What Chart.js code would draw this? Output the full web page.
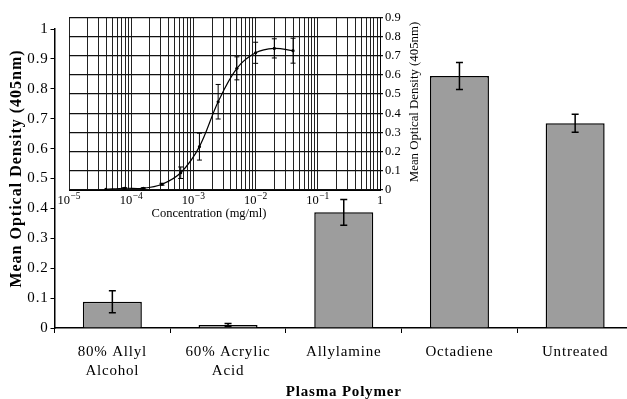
<!DOCTYPE html>
<html><head><meta charset="utf-8">
<script src="https://cdn.jsdelivr.net/npm/chart.js@4.4.1/dist/chart.umd.min.js"></script>
<style>
html,body{margin:0;padding:0;background:#fff;overflow:hidden;width:627px;height:399px;}
#wrap{position:relative;width:633px;height:401px;}
canvas{position:absolute;left:0;top:0;}
</style></head><body>
<div id="wrap">
<canvas id="main" width="633" height="401"></canvas>
<canvas id="inset" width="633" height="401"></canvas>
</div>
<script>
// ---- main bar chart data ----
const categories = [['80% Allyl', 'Alcohol'], ['60% Acrylic', 'Acid'], 'Allylamine', 'Octadiene', 'Untreated'];
const barValues = [0.088, 0.010, 0.387, 0.843, 0.685];
const barErrors = [0.037, 0.005, 0.043, 0.045, 0.030];
const mainYTitle = 'Mean Optical Density (405nm)';
const mainXTitle = 'Plasma Polymer';

// ---- inset dose-response data ----
const concentrations = [0.0000390625, 0.000078125, 0.00015625, 0.0003125, 0.000625, 0.00125, 0.0025, 0.005, 0.01, 0.02, 0.04];
const insetValues = [0.004, 0.009, 0.009, 0.030, 0.090, 0.226, 0.460, 0.634, 0.715, 0.738, 0.726];
const insetErrors = [0, 0.003, 0.003, 0.005, 0.030, 0.070, 0.090, 0.060, 0.055, 0.050, 0.065];
const decadeTicks = [1e-5, 1e-4, 1e-3, 1e-2, 1e-1, 1];
const decadeBases = ['10', '10', '10', '10', '10', '1'];
const decadeExponents = ['\u22125', '\u22124', '\u22123', '\u22122', '\u22121', ''];
const insetXTitle = 'Concentration (mg/ml)';
const insetYTitle = 'Mean Optical Density (405nm)';

const FAMILY = '"Liberation Serif", "Times New Roman", serif';
Chart.defaults.color = '#000';

// log grid positions: 1..9 x each decade, plus the last decade tick
const gridValues = [];
for (let d = 0; d < decadeTicks.length - 1; d++) {
  for (let m = 1; m <= 9; m++) gridValues.push(decadeTicks[d] * m);
}
gridValues.push(decadeTicks[decadeTicks.length - 1]);

const errorBarPlugin = {
  id: 'errorBars',
  afterDatasetsDraw(chart, args, opts) {
    const ctx = chart.ctx;
    const meta = chart.getDatasetMeta(0);
    const ys = chart.scales.y;
    ctx.save();
    ctx.strokeStyle = opts.color;
    ctx.lineWidth = opts.width;
    opts.values.forEach((v, i) => {
      const e = opts.errors[i];
      if (!e) return;
      const x = meta.data[i].x;
      const y1 = ys.getPixelForValue(v + e), y2 = ys.getPixelForValue(v - e);
      ctx.beginPath();
      ctx.moveTo(x, y1); ctx.lineTo(x, y2);
      ctx.moveTo(x - opts.cap, y1); ctx.lineTo(x + opts.cap, y1);
      ctx.moveTo(x - opts.cap, y2); ctx.lineTo(x + opts.cap, y2);
      ctx.stroke();
    });
    ctx.restore();
  }
};

const textPlugin = {
  id: 'freeText',
  beforeDraw(chart, args, opts) {
    chart.ctx.letterSpacing = opts.spacing || '0px';
  },
  afterDraw(chart, args, opts) {
    const ctx = chart.ctx;
    (opts.items || []).forEach(it => {
      ctx.save();
      ctx.font = it.font;
      ctx.fillStyle = '#000';
      ctx.letterSpacing = it.spacing || '0px';
      ctx.textAlign = 'center';
      ctx.textBaseline = 'middle';
      ctx.translate(it.x, it.y);
      ctx.rotate(it.rot || 0);
      ctx.fillText(it.text, 0, 0);
      ctx.restore();
    });
  }
};

// power-of-ten tick labels with raised exponents
const expLabelPlugin = {
  id: 'expLabels',
  afterDraw(chart, args, opts) {
    if (!opts.ticks) return;
    const ctx = chart.ctx;
    const xs = chart.scales.x;
    ctx.save();
    ctx.fillStyle = '#000';
    ctx.textBaseline = 'alphabetic';
    ctx.textAlign = 'left';
    opts.ticks.forEach((t, i) => {
      const x = xs.getPixelForValue(t);
      ctx.font = opts.baseFont;
      const wb = ctx.measureText(opts.bases[i]).width;
      ctx.font = opts.expFont;
      const we = opts.exps[i] ? ctx.measureText(opts.exps[i]).width + 0.5 : 0;
      const x0 = x - (wb + we) / 2;
      ctx.font = opts.baseFont;
      ctx.fillText(opts.bases[i], x0, opts.baseline);
      if (opts.exps[i]) {
        ctx.font = opts.expFont;
        ctx.fillText(opts.exps[i], x0 + wb + 0.5, opts.baseline - opts.raise);
      }
    });
    ctx.restore();
  }
};

new Chart(document.getElementById('main'), {
  type: 'bar',
  data: {
    labels: categories,
    datasets: [{
      data: barValues,
      backgroundColor: '#9d9d9d',
      borderColor: '#000',
      borderWidth: 1.5,
      barPercentage: 0.51,
      categoryPercentage: 1
    }]
  },
  options: {
    responsive: false, animation: false, devicePixelRatio: 1,
    layout: { padding: { top: 29, right: 0, bottom: 0, left: 0 } },
    plugins: {
      legend: { display: false }, tooltip: { enabled: false },
      errorBars: { values: barValues, errors: barErrors, color: '#000', width: 1.5, cap: 3.5 },
      freeText: {
        spacing: '0.8px',
        items: [{ text: mainYTitle, x: 17, y: 168.5, rot: -Math.PI / 2, font: 'bold 16px ' + FAMILY, spacing: '1px' }]
      }
    },
    scales: {
      x: {
        grid: { drawOnChartArea: false, tickLength: 5, color: '#000', lineWidth: 1, offset: true },
        border: { color: '#000', width: 1.5 },
        ticks: { font: { family: FAMILY, size: 15, lineHeight: 1.27 }, color: '#000', padding: 9.5, maxRotation: 0, autoSkip: false },
        title: { display: true, text: mainXTitle, color: '#000', font: { family: FAMILY, size: 15, weight: 'bold' }, padding: { top: 0, bottom: 0 } },
        afterFit: s => { s.height = 73; }
      },
      y: {
        min: 0, max: 1,
        ticks: {
          stepSize: 0.1, font: { family: FAMILY, size: 15 }, color: '#000', padding: 2,
          callback: v => String(Math.round(v * 10) / 10)
        },
        grid: { drawOnChartArea: false, tickLength: 4, color: '#000' },
        border: { color: '#000', width: 1.5 },
        afterFit: s => { s.width = 54.5; }
      }
    }
  },
  plugins: [errorBarPlugin, textPlugin]
});

new Chart(document.getElementById('inset'), {
  type: 'line',
  data: {
    datasets: [{
      data: concentrations.map((c, i) => ({ x: c, y: insetValues[i] })),
      borderColor: '#000',
      borderWidth: 1.2,
      pointRadius: 1.6,
      pointBackgroundColor: '#000',
      pointBorderWidth: 0,
      tension: 0.35,
      fill: false
    }]
  },
  options: {
    responsive: false, animation: false, devicePixelRatio: 1,
    layout: { padding: { top: 17.3, right: 223, bottom: 179, left: 69 } },
    plugins: {
      legend: { display: false }, tooltip: { enabled: false },
      errorBars: { values: insetValues, errors: insetErrors, color: '#000', width: 1, cap: 2.5 },
      expLabels: {
        ticks: decadeTicks, bases: decadeBases, exps: decadeExponents,
        baseFont: '12.5px ' + FAMILY, expFont: '9.5px ' + FAMILY, baseline: 203.5, raise: 5
      },
      freeText: {
        items: [
          { text: insetXTitle, x: 209, y: 214, font: '12.5px ' + FAMILY },
          { text: insetYTitle, x: 415, y: 102, rot: -Math.PI / 2, font: '12.8px ' + FAMILY }
        ]
      }
    },
    scales: {
      x: {
        type: 'logarithmic', min: 1e-5, max: 1,
        afterBuildTicks: s => { s.ticks = gridValues.map(v => ({ value: v })); },
        ticks: { display: false, autoSkip: false },
        grid: { color: '#222', lineWidth: 1, drawTicks: false },
        border: { color: '#000', width: 1 },
        afterFit: s => { s.height = 32; }
      },
      y: {
        position: 'right', min: 0, max: 0.9,
        ticks: { stepSize: 0.1, font: { family: FAMILY, size: 12.5 }, color: '#000', padding: 2 },
        grid: { color: '#111', lineWidth: 1.2, tickLength: 3 },
        border: { color: '#000', width: 1 },
        afterFit: s => { s.width = 30; }
      }
    }
  },
  plugins: [errorBarPlugin, textPlugin, expLabelPlugin]
});
</script>
</body></html>
